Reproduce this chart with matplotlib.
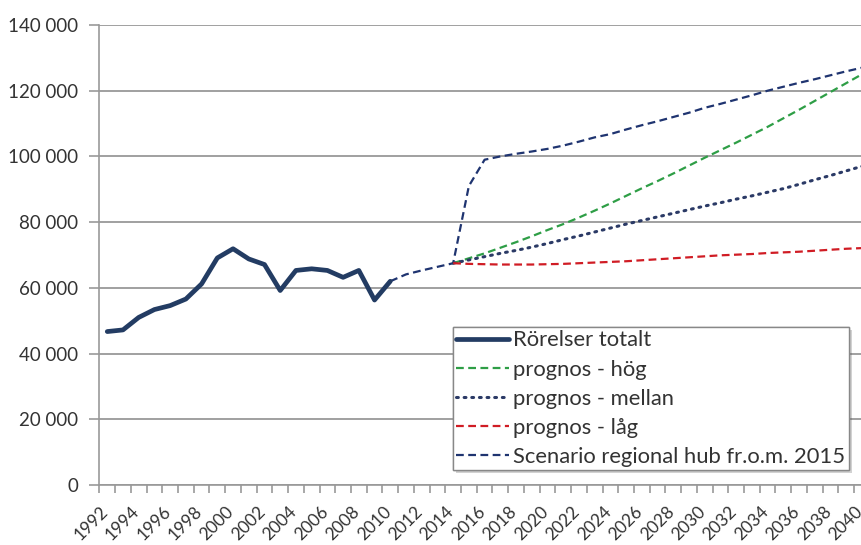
import matplotlib
matplotlib.use("Agg")
import matplotlib.pyplot as plt
import matplotlib.patheffects as pe
import matplotlib.transforms as mtransforms
from matplotlib.ticker import FuncFormatter

years = list(range(1992, 2041))

hist_years = list(range(1992, 2011))
rorelser = [46700, 47200, 51000, 53400, 54600, 56600, 61200, 69100, 71900, 68800,
            67100, 59200, 65300, 65800, 65300, 63200, 65300, 56300, 62000]

scen_years = list(range(2010, 2041))
scenario = [62000, 64100, 65300, 66400, 67500, 91000, 99000, 100000, 100800, 101500,
            102300, 103300, 104500, 105800, 106800, 108200, 109500, 110700, 112000, 113300,
            114800, 116000, 117300, 118600, 120000, 121200, 122400, 123500, 124700, 125900,
            127000]

prog_years = list(range(2014, 2041))
prognos_hog = [67500, 69000, 70500, 72200, 73900, 75700, 77600, 79400, 81400, 83500,
               85700, 88000, 90300, 92500, 94800, 97200, 99600, 101900, 104200, 106600,
               109000, 111600, 114200, 116900, 119600, 122300, 125000]
prognos_mellan = [67500, 68500, 69500, 70500, 71400, 72400, 73500, 74700, 75800, 77000,
                  78200, 79400, 80500, 81600, 82700, 83800, 84900, 85900, 87000, 88000,
                  89100, 90200, 91500, 92900, 94200, 95600, 97000]
prognos_lag = [67500, 67300, 67200, 67100, 67100, 67100, 67200, 67300, 67500, 67700,
               67900, 68100, 68400, 68700, 69000, 69300, 69600, 69900, 70100, 70300,
               70600, 70800, 71000, 71300, 71600, 71900, 72100]

labels = ["Rörelser totalt", "prognos - hög", "prognos - mellan", "prognos - låg",
          "Scenario regional hub fr.o.m. 2015"]

plt.rcParams['font.family'] = ['Lato', 'DejaVu Sans']
text_color = '#333333'

W, H = 862, 545
fig = plt.figure(figsize=(W / 100, H / 100), dpi=100)
left_px, right_px, top_px, bot_px = 99.4, 869.8, 25, 485
ax = fig.add_axes([left_px / W, 1 - bot_px / H, (right_px - left_px) / W, (bot_px - top_px) / H])

def idx(ys):
    return [y - years[0] for y in ys]

l_scen, = ax.plot(idx(scen_years), scenario, color='#1F3470', lw=1.6, dashes=(3.5, 2.0), zorder=3)
l_hog, = ax.plot(idx(prog_years), prognos_hog, color='#2E9E46', lw=1.6, dashes=(3.5, 2.0), zorder=3)
l_mel, = ax.plot(idx(prog_years), prognos_mellan, color='#2B3A66', lw=2.2, dashes=(0.6, 1.9),
                 dash_capstyle='round', zorder=3)
l_lag, = ax.plot(idx(prog_years), prognos_lag, color='#D01C24', lw=1.6, dashes=(3.5, 2.0), zorder=3)
l_hist, = ax.plot(idx(hist_years), rorelser, color='#233C63', lw=3.4, solid_capstyle='round',
                  solid_joinstyle='round', zorder=4)

ax.set_xlim(-0.5, len(years) - 0.5)
ax.set_ylim(0, 140000)
ax.set_yticks(range(0, 140001, 20000))
ax.yaxis.set_major_formatter(FuncFormatter(lambda v, p: f"{int(v):,}".replace(",", " ")))
ax.grid(axis='y', color='#999999', lw=1.3)
ax.set_axisbelow(True)

ax.set_xticks([i for i in range(0, len(years), 2)])
ax.set_xticklabels([str(y) for y in years[::2]], rotation=45, ha='right', va='top')
ax.set_xticks([i - 0.5 for i in range(len(years) + 1)], minor=True)
ax.tick_params(axis='x', which='major', length=0, pad=13, labelsize=12.5, labelcolor=text_color)
ax.tick_params(axis='x', which='minor', length=6, color='#999999', width=1.2, direction='out')
ax.tick_params(axis='y', length=7, color='#999999', width=1.2, pad=8, labelsize=13.5,
               labelcolor=text_color)
shift = mtransforms.ScaledTranslation(4 / 100, 0, fig.dpi_scale_trans)
for lab in ax.get_xticklabels():
    lab.set_transform(lab.get_transform() + shift)

for s in ['top', 'right']:
    ax.spines[s].set_visible(False)
for s in ['left', 'bottom']:
    ax.spines[s].set_color('#999999')
    ax.spines[s].set_linewidth(1.2)

leg = ax.legend([l_hist, l_hog, l_mel, l_lag, l_scen], labels,
                loc='upper left', bbox_to_anchor=((453 - left_px) / (right_px - left_px),
                                                  1 - (327 - top_px) / (bot_px - top_px)),
                fontsize=15.8, frameon=True, fancybox=False, shadow=False, framealpha=1,
                handlelength=2.4, handletextpad=0.2, labelspacing=0.42,
                borderpad=0.15, borderaxespad=0)
leg.get_frame().set_edgecolor('#888888')
leg.get_frame().set_facecolor('white')
leg.get_frame().set_linewidth(1.0)
leg.get_frame().set_path_effects([pe.withSimplePatchShadow(offset=(2, -2), alpha=0.25), pe.Normal()])
for t in leg.get_texts():
    t.set_color(text_color)

fig.savefig("out.png", dpi=100)
